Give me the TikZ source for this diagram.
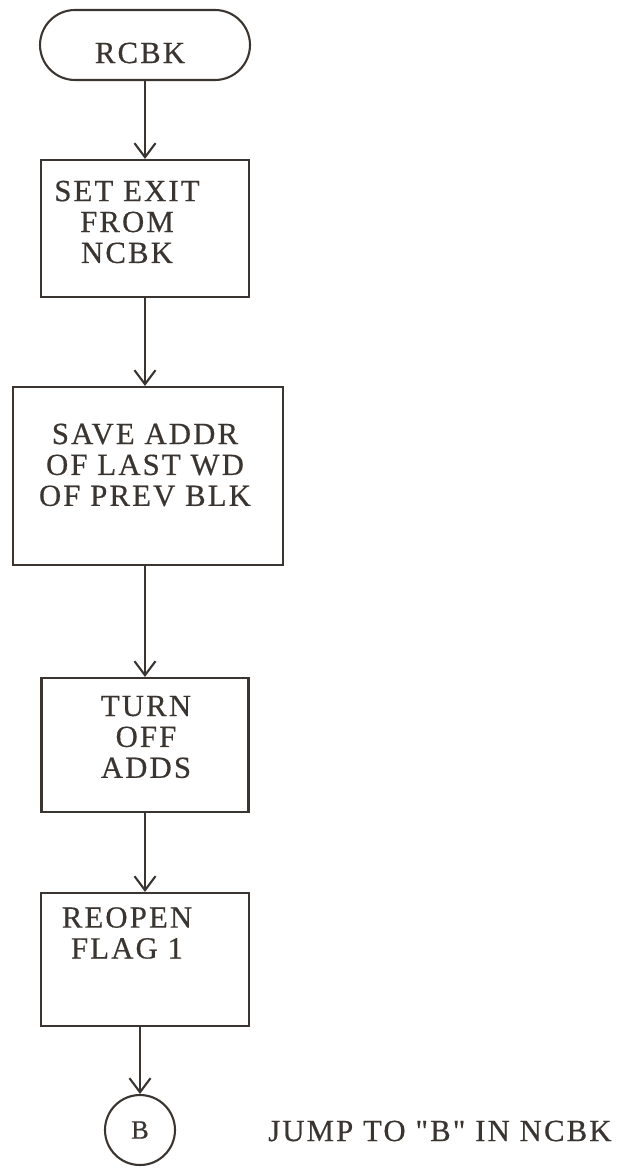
\documentclass[tikz,border=0pt]{standalone}
\usepackage{fontspec}
\setmainfont[LetterSpace=7, FakeBold=0.5, Ligatures=TeXOff]{Liberation Serif}
\usepackage{xcolor}
\usetikzlibrary{arrows.meta}

\definecolor{ink}{HTML}{3A3530}

\tikzset{
  box/.style={draw=ink, line width=1.2pt, rectangle, inner sep=0pt},
  term/.style={box, rounded corners=0.7cm},
  conn/.style={box, circle, minimum size=1.4cm, text=ink, font=\fontsize{15}{17}\selectfont},
  txt/.style={align=center, text=ink, font=\fontsize{17.5}{17.6}\selectfont},
  flow/.style={draw=ink, line width=1.2pt, -{Straight Barb[length=8pt,width=12pt]}}
}

\begin{document}
\begin{tikzpicture}[x=0.02cm, y=-0.02cm]
    \useasboundingbox (0,0) rectangle (636,1168);
    % Entry
    \node[term, minimum width=4.2cm, minimum height=1.4cm] (rcbk) at (145,45) {};
    \node[txt] (rcbk-t) at (140,53) {RCBK};
    % Steps
    \node[box, minimum width=4.16cm, minimum height=2.74cm] (setexit) at (145,228.5) {};
    \node[txt] (setexit-t) at (127,222) {SET EXIT\\FROM\\NCBK};
    \node[box, minimum width=5.4cm, minimum height=3.56cm] (saveaddr) at (148,476) {};
    \node[txt] (saveaddr-t) at (145,465) {SAVE ADDR\\OF LAST WD\\OF PREV BLK};
    \node[box, minimum width=4.14cm, minimum height=2.68cm] (turnoff) at (145,745) {};
    \node[txt] (turnoff-t) at (146,737) {TURN\\OFF\\ADDS};
    \node[box, minimum width=4.16cm, minimum height=2.66cm] (reopen) at (145,959.5) {};
    \node[txt] (reopen-t) at (127,933) {REOPEN\\FLAG 1};
    % Exit connector
    \node[conn] (jumpb) at (140,1130) {B};
    \node[txt, anchor=west] (jumpb-t) at (262,1131) {JUMP TO "B" IN NCBK};
    % Flow lines
    \draw[flow] (rcbk) -- (setexit);
    \draw[flow] (setexit.south) -- (setexit.south |- saveaddr.north);
    \draw[flow] (turnoff.north |- saveaddr.south) -- (turnoff.north);
    \draw[flow] (turnoff) -- (reopen);
    \draw[flow] (jumpb.north |- reopen.south) -- (jumpb);
\end{tikzpicture}
\end{document}
